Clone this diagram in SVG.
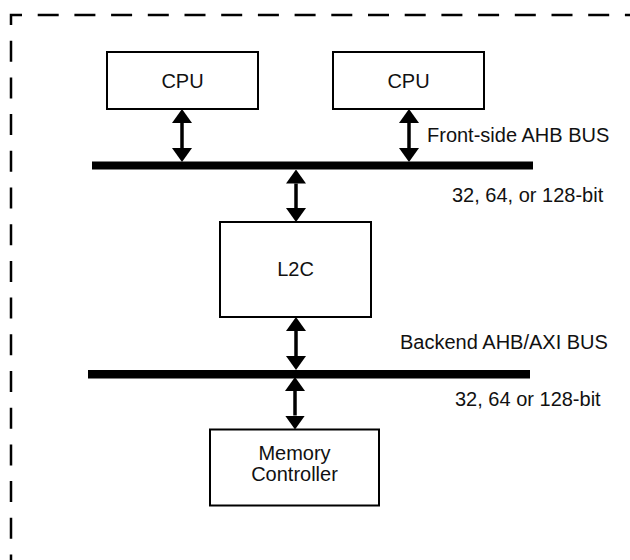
<svg xmlns="http://www.w3.org/2000/svg" width="630" height="560" viewBox="0 0 630 560">
  <style>
    .box { fill: #fff; stroke: #000; stroke-width: 2; }
    .bus { fill: #000; }
    .lbl { font-family: "Liberation Sans", Arial, sans-serif; font-size: 20px; fill: #111; }
    .mid { text-anchor: middle; }
    .arr { stroke: #000; stroke-width: 3.5; fill: none; marker-start: url(#ah); marker-end: url(#ah); }
    .frame { fill: none; stroke: #000; stroke-width: 2.5; stroke-dasharray: 21 15.7; }
  </style>
  <defs>
    <marker id="ah" viewBox="0 0 14 20" refX="0" refY="10" markerWidth="14" markerHeight="20" markerUnits="userSpaceOnUse" orient="auto-start-reverse">
      <path d="M0,0 L14,10 L0,20 Z" fill="#000"/>
    </marker>
  </defs>
  <rect width="630" height="560" fill="#fff"/>
  <path class="frame" d="M11,575.5 V15 H640"/>

  <g id="cpu1">
    <rect class="box" x="107" y="52" width="151" height="57"/>
    <text class="lbl mid" x="182.5" y="88">CPU</text>
  </g>
  <g id="cpu2">
    <rect class="box" x="333" y="52" width="151" height="57"/>
    <text class="lbl mid" x="408.5" y="88">CPU</text>
  </g>
  <g id="frontside-bus">
    <rect class="bus" x="92" y="161.5" width="441" height="8"/>
    <text class="lbl" x="427" y="142">Front-side AHB BUS</text>
    <text class="lbl" x="452" y="202">32, 64, or 128-bit</text>
  </g>
  <g id="l2c">
    <rect class="box" x="220" y="222" width="151" height="95"/>
    <text class="lbl mid" x="295.5" y="276">L2C</text>
  </g>
  <g id="backend-bus">
    <rect class="bus" x="88" y="370" width="442" height="8.5"/>
    <text class="lbl" x="400" y="349">Backend AHB/AXI BUS</text>
    <text class="lbl" x="455" y="406">32, 64 or 128-bit</text>
  </g>
  <g id="memory-controller">
    <rect class="box" x="210" y="429.5" width="169" height="76"/>
    <text class="lbl mid" x="294.5" y="460">Memory</text>
    <text class="lbl mid" x="294.5" y="481">Controller</text>
  </g>

  <g id="connectors">
    <line class="arr" x1="182" y1="123" x2="182" y2="148"/>
    <line class="arr" x1="409" y1="123" x2="409" y2="148"/>
    <line class="arr" x1="296" y1="183.5" x2="296" y2="208"/>
    <line class="arr" x1="296" y1="331" x2="296" y2="356"/>
    <line class="arr" x1="295" y1="391" x2="295" y2="415.5"/>
  </g>
</svg>
